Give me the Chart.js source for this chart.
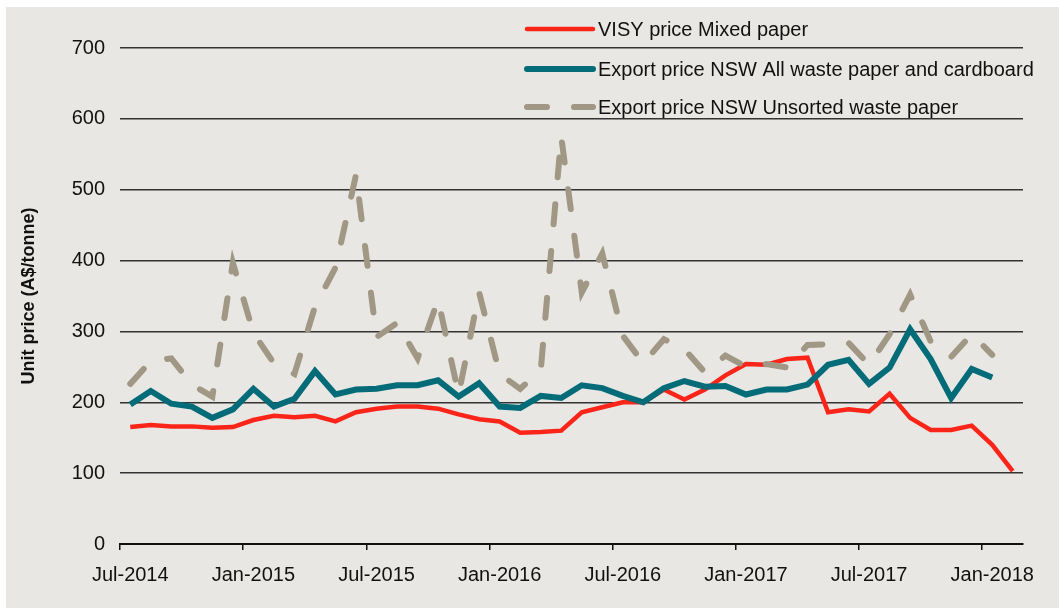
<!DOCTYPE html>
<html>
<head>
<meta charset="utf-8">
<script src="https://cdn.jsdelivr.net/npm/chart.js@4.4.1/dist/chart.umd.min.js"></script>
<style>
  html, body { margin: 0; padding: 0; background: #fff; }
  #wrap { width: 1059px; height: 608px; position: relative; }
</style>
</head>
<body>
<div id="wrap"><canvas id="paperChart"></canvas></div>
<script>
// monthly categories, Jul-2014 .. Feb-2018
const months = [
  'Jul-2014','Aug-2014','Sep-2014','Oct-2014','Nov-2014','Dec-2014',
  'Jan-2015','Feb-2015','Mar-2015','Apr-2015','May-2015','Jun-2015',
  'Jul-2015','Aug-2015','Sep-2015','Oct-2015','Nov-2015','Dec-2015',
  'Jan-2016','Feb-2016','Mar-2016','Apr-2016','May-2016','Jun-2016',
  'Jul-2016','Aug-2016','Sep-2016','Oct-2016','Nov-2016','Dec-2016',
  'Jan-2017','Feb-2017','Mar-2017','Apr-2017','May-2017','Jun-2017',
  'Jul-2017','Aug-2017','Sep-2017','Oct-2017','Nov-2017','Dec-2017',
  'Jan-2018','Feb-2018'
];

const visyMixed = [
  165,168,166,166,164,165, 175,181,179,181,173,186,
  191,194,194,191,183,176, 173,157,158,160,186,193,
  200,200,218,204,218,238, 254,253,261,263,186,190,
  187,212,178,161,161,167, 140,103
];

const exportAll = [
  197,216,198,194,178,190, 219,194,205,244,211,218,
  219,224,224,231,208,227, 194,192,209,206,224,220,
  209,200,220,230,222,223, 211,218,218,225,253,260,
  226,249,303,261,206,247, 235,null
];

const exportUnsorted = [
  226,258,262,225,208,397, 298,255,240,335,390,521,
  292,312,262,345,211,355, 240,219,245,575,355,410,
  294,255,289,275,242,266, 250,254,249,281,282,284,
  253,296,352,286,264,296, 267,null
];

const yTicks = [0, 100, 200, 300, 400, 500, 600, 700];
const labelEvery = 6;

const FONT = '"Liberation Sans", Arial, sans-serif';
const TEXT = '#111111';

const backdrop = {
  id: 'backdrop',
  beforeDraw(chart) {
    const c = chart.ctx;
    c.save();
    c.fillStyle = '#ffffff';
    c.fillRect(0, 0, chart.width, chart.height);
    c.fillStyle = '#e8e7e3';
    c.fillRect(6, 7, chart.width - 6, chart.height - 7);
    c.restore();
  }
};

// legend drawn by hand so it can sit over the plot like the original
const floatingLegend = {
  id: 'floatingLegend',
  afterDraw(chart) {
    const c = chart.ctx;
    const rows = [29, 69, 107];
    c.save();
    chart.data.datasets.forEach((ds, i) => {
      const y = rows[i];
      c.beginPath();
      c.strokeStyle = ds.borderColor;
      c.lineWidth = ds.borderWidth;
      c.lineCap = 'round';
      c.setLineDash(ds.borderDash || []);
      c.moveTo(527, y);
      c.lineTo(593, y);
      c.stroke();
      c.setLineDash([]);
      c.fillStyle = TEXT;
      c.font = '20px ' + FONT;
      c.textBaseline = 'middle';
      c.textAlign = 'left';
      c.fillText(ds.label, 598, y + 1);
    });
    c.restore();
  }
};

const ctx = document.getElementById('paperChart').getContext('2d');
const paperChart = new Chart(ctx, {
  type: 'line',
  data: {
    labels: months,
    datasets: [
      {
        label: 'VISY price Mixed paper',
        data: visyMixed,
        borderColor: '#fb2419',
        borderWidth: 4.5,
        pointRadius: 0,
        tension: 0,
        order: 2
      },
      {
        label: 'Export price NSW All waste paper and cardboard',
        data: exportAll,
        borderColor: '#046b78',
        borderWidth: 6,
        pointRadius: 0,
        tension: 0,
        order: 1
      },
      {
        label: 'Export price NSW Unsorted waste paper',
        data: exportUnsorted,
        borderColor: '#a09784',
        borderWidth: 6,
        borderDash: [20, 27],
        borderCapStyle: 'round',
        pointRadius: 0,
        tension: 0,
        order: 0
      }
    ]
  },
  options: {
    responsive: true,
    maintainAspectRatio: false,
    animation: false,
    devicePixelRatio: 1,
    layout: { padding: { left: 0, top: 48, right: 36, bottom: 0 } },
    plugins: {
      legend: { display: false },
      tooltip: { enabled: false }
    },
    scales: {
      x: {
        type: 'category',
        offset: true,
        grid: {
          offset: true,
          drawOnChartArea: false,
          drawTicks: true,
          tickLength: 6,
          lineWidth: 1.5,
          color: (c) => (c.index % labelEvery === 0 ? TEXT : 'rgba(0,0,0,0)')
        },
        border: { display: true, color: TEXT, width: 2 },
        ticks: {
          autoSkip: false,
          maxRotation: 0,
          padding: 13,
          color: TEXT,
          font: { family: FONT, size: 20 },
          callback: (v, i) => (i % labelEvery === 0 ? months[i] : '')
        },
        afterFit: (s) => { s.height = 64; }
      },
      y: {
        min: yTicks[0],
        max: yTicks[yTicks.length - 1],
        afterBuildTicks: (s) => { s.ticks = yTicks.map(v => ({ value: v })); },
        grid: { color: '#333333', lineWidth: 1.5, drawTicks: false },
        border: { display: false },
        ticks: {
          padding: 15,
          color: TEXT,
          font: { family: FONT, size: 20 }
        },
        title: {
          display: true,
          text: 'Unit price (A$/tonne)',
          color: TEXT,
          font: { family: FONT, size: 18, weight: 'bold' },
          padding: { top: 18, bottom: 0 }
        },
        afterFit: (s) => { s.width = 120; }
      }
    }
  },
  plugins: [backdrop, floatingLegend]
});
</script>
</body>
</html>
